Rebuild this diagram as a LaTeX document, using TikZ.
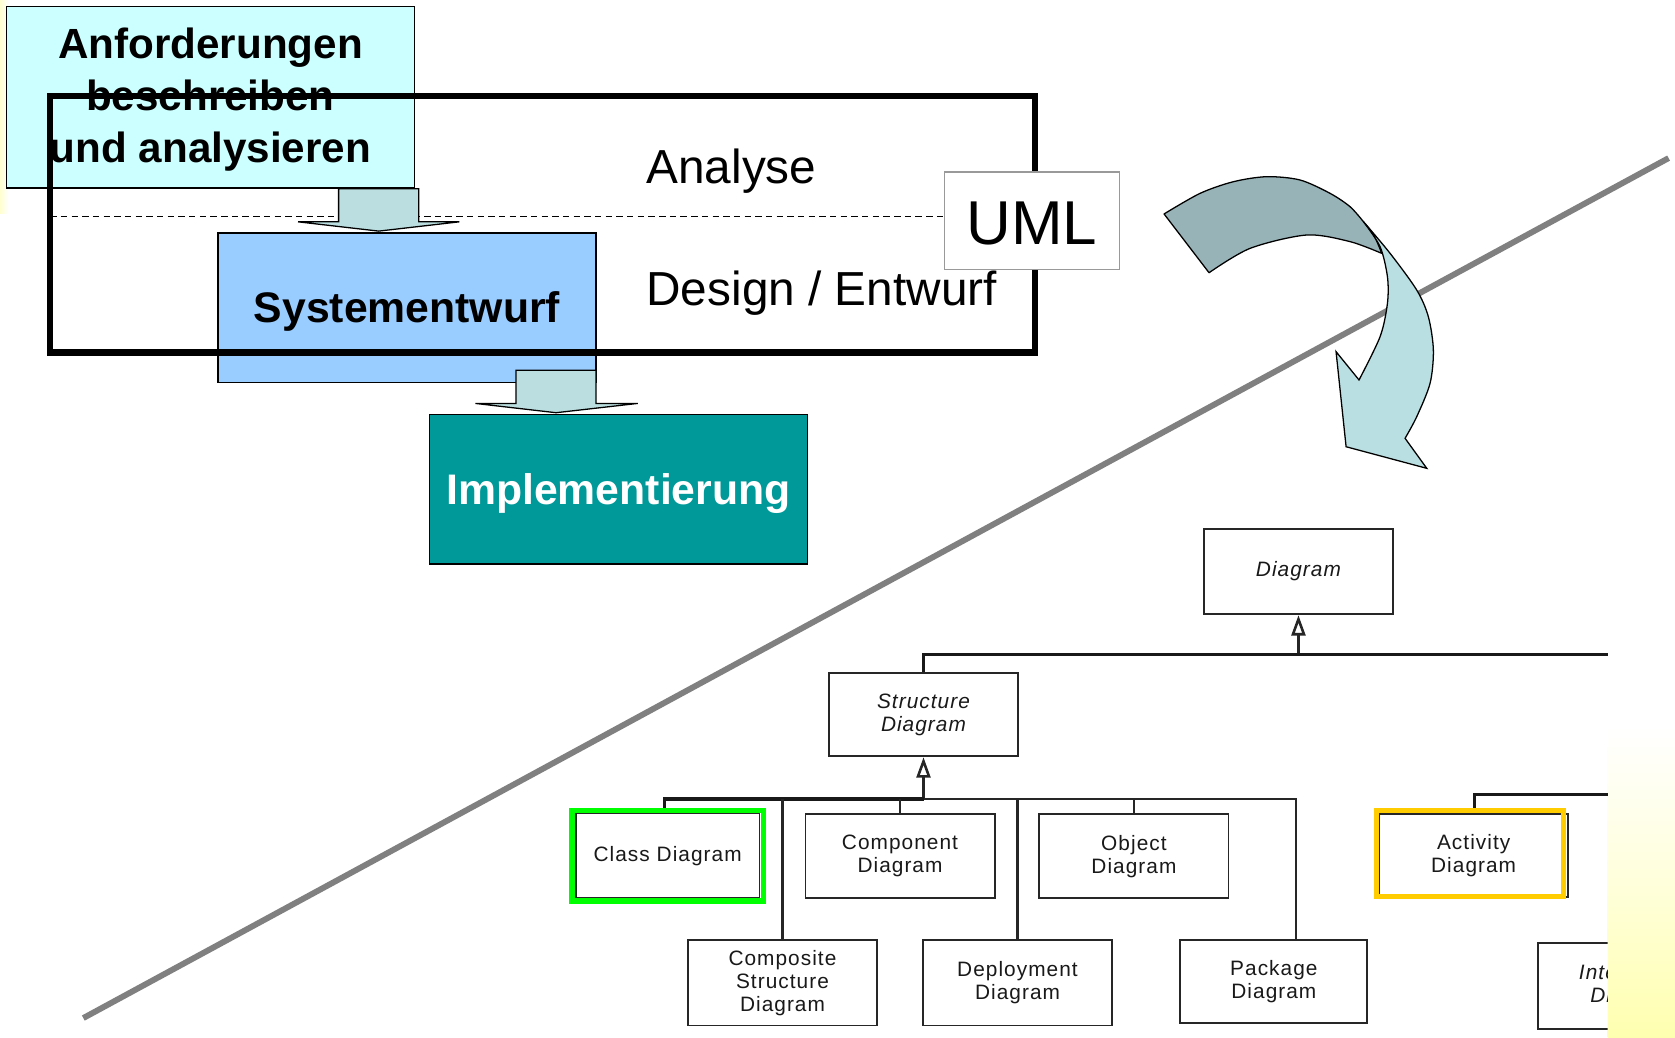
\documentclass[tikz,border=0pt]{standalone}
\usepackage{fontspec}
\setmainfont{Liberation Sans}
\newfontfamily\umlfont[LetterSpace=5]{Liberation Sans}
\usetikzlibrary{arrows.meta,calc}
\pgfdeclarelayer{back}
\pgfdeclarelayer{bg}
\pgfsetlayers{back,bg,main}
\definecolor{anfc}{HTML}{CCFFFF}
\definecolor{sysc}{HTML}{99CCFF}
\definecolor{impc}{HTML}{009999}
\definecolor{arrc}{HTML}{BBDFE0}
\definecolor{curvdarkc}{HTML}{97B3B7}
\definecolor{curvlightc}{HTML}{BADFE2}
\definecolor{diagline}{HTML}{808080}
\definecolor{umlgray}{HTML}{999999}
\definecolor{hlgreen}{HTML}{00FF00}
\definecolor{hlyellow}{HTML}{FFCC00}
\definecolor{glow}{HTML}{FFFFB0}
\definecolor{glowfaint}{HTML}{FFFFD0}
\newcommand{\lowered}[2]{\raisebox{-#1}[\height][\depth]{#2}}
\begin{document}
\begin{tikzpicture}[x=1pt,y=-1pt,
  box/.style={draw=black, line width=1.3pt, inner sep=0pt, align=center,
    minimum width=354pt, minimum height=140pt},
  bigbold/.style={font=\fontsize{39.5}{48.5}\selectfont\bfseries},
  plaintext/.style={font=\fontsize{44.7}{50}\selectfont, inner sep=0pt},
  blockarrow/.style={draw=black, line width=1.2pt, fill=arrc, line join=miter},
  umlbox/.style={draw=black!85, line width=1.8pt, fill=white, inner sep=0pt,
    minimum width=177pt, minimum height=80pt, align=center,
    font=\umlfont\fontsize{19.5}{21.5}\selectfont, text=black!90},
  umlabstract/.style={umlbox, font=\umlfont\fontsize{19.5}{21.5}\selectfont\itshape},
  tree/.style={draw=black!85, line width=2pt},
  treethick/.style={draw=black!90, line width=3pt},
  gen/.style={tree, -{Triangle[open, width=13pt, length=19pt, line width=2.4pt]}},
]
\useasboundingbox (0,0) rectangle (1568,971);
\begin{pgfonlayer}{back}
  \fill[white] (0,0) rectangle (1568,971);
  \shade[left color=glowfaint, right color=white] (0,0) rectangle (8,200);
  \shade[top color=white, bottom color=glow, middle color=white!55!glow] (1505,680) rectangle (1568,971);
\end{pgfonlayer}

% ---- process boxes
\node[box, fill=anfc, bigbold, minimum width=382pt, minimum height=170pt] (anf) at (197,91)
  {\lowered{3pt}{\begin{tabular}{@{}c@{}}Anforderungen\\beschreiben\\und analysieren\end{tabular}}};
\node[box, fill=sysc, font=\fontsize{40}{48}\selectfont\bfseries] (sys) at (381,288) {\lowered{4pt}{Systementwurf}};
\node[box, fill=impc, text=white, font=\fontsize{40}{48}\selectfont\bfseries] (imp) at (579,458) {\lowered{4pt}{Implementierung}};

% ---- frame
\node[draw=black, line width=6pt, minimum width=922pt, minimum height=240pt, inner sep=0pt] (frm) at (508,210) {};

% ---- UML label box
\node[draw=umlgray, line width=1.3pt, fill=white, minimum width=164pt, minimum height=91pt,
  inner sep=0pt, font=\fontsize{58}{60}\selectfont] (uml) at (966,206.5) {\lowered{3pt}{UML}};

\node[plaintext, anchor=base west] (ana) at (605,172) {Analyse};
\node[plaintext, anchor=base west] (des) at (605,286) {Design / Entwurf};

% ---- dashed separator and diagonal
\begin{pgfonlayer}{bg}
  \draw[line width=1.2pt, dash pattern=on 6pt off 4pt]
    ([xshift=3pt,yshift=7pt]frm.west) -- ([yshift=3.5pt]uml.west);
  \draw[line width=5.5pt, diagline] (78,953) -- (1562,148);
\end{pgfonlayer}

% ---- block arrows
\filldraw[blockarrow]
  ([xshift=120pt]anf.south) -- ([xshift=195pt]anf.south)
  -- ([xshift=195pt,yshift=-31pt]anf.south) -- ([xshift=233pt,yshift=-31pt]anf.south)
  -- ([xshift=-26.5pt,yshift=1pt]sys.north)
  -- ([xshift=82pt,yshift=-31pt]anf.south) -- ([xshift=120pt,yshift=-31pt]anf.south) -- cycle;
\filldraw[blockarrow]
  ([xshift=102pt,yshift=12pt]sys.south) -- ([xshift=177pt,yshift=12pt]sys.south)
  -- ([xshift=177pt,yshift=-19pt]sys.south) -- ([xshift=216pt,yshift=-19pt]sys.south)
  -- ([xshift=-58.5pt,yshift=1pt]imp.north)
  -- ([xshift=64pt,yshift=-19pt]sys.south) -- ([xshift=102pt,yshift=-19pt]sys.south) -- cycle;

% ---- curved arrow
\filldraw[draw=black, line width=1.2pt, fill=curvdarkc, line join=round]
  plot[smooth] coordinates {(1089.7,200.3) (1123.4,181.0) (1154.6,170.1) (1185.8,165.4)
    (1217.0,168.5) (1245.1,181.0) (1263.8,193.5) (1276.3,207.5)}
  -- plot[smooth] coordinates {(1276.3,207.5) (1286,220) (1293.5,237.2)}
  -- plot[smooth] coordinates {(1293.5,237.2) (1263.8,226.2) (1223.2,220) (1170.2,232.5) (1131.8,255.3)}
  -- cycle;
\filldraw[draw=black, line width=1.2pt, fill=curvlightc, line join=miter]
  plot[smooth] coordinates {(1276.3,207.5) (1301.3,237.2) (1326.2,271.5) (1337.1,296.5)
    (1341.8,327.7) (1338.7,358.8) (1326.2,390.1) (1315.3,410.3)}
  -- (1335.6,438.4) -- (1260.1,418.2) -- (1250.7,329.2)
  -- plot[smooth] coordinates {(1272.2,355.7) (1291.9,315.2) (1298.8,284.0) (1298.8,259.0)
    (1291.9,230.9) (1276.3,207.5)}
  -- cycle;

% ---- UML hierarchy
\node[umlabstract] (diag) at (1215.5,535) {Diagram};
\node[umlabstract, minimum height=78pt] (struct) at (864.5,669) {Structure\\Diagram};
\node[umlbox, minimum width=172pt] (class) at (625,801) {Class Diagram};
\node[draw=hlgreen, line width=5pt, minimum width=179pt, minimum height=85pt, inner sep=0pt] (classhl) at (625,801) {};
\node[umlbox, minimum height=79pt] (comp) at (842.5,801.5) {Component\\Diagram};
\node[umlbox, minimum height=79pt] (obj) at (1061.5,801.5) {Object\\Diagram};
\node[umlbox, minimum height=78pt] (act) at (1379.5,801) {Activity\\Diagram};
\node[draw=hlyellow, line width=5pt, minimum width=175pt, minimum height=81pt, inner sep=0pt] (acthl) at (1376,799) {};
\node[umlbox] (compos) at (732.5,920) {Composite\\Structure\\Diagram};
\node[umlbox] (deploy) at (952.5,920) {Deployment\\Diagram};
\node[umlbox, minimum width=175pt, minimum height=78pt] (pack) at (1192.5,919) {Package\\Diagram};
\begin{scope}
  \clip (0,0) rectangle (1505,971);
  \node[umlabstract] (inter) at (1528.5,923) {Interaction\\Diagram};
\end{scope}

\coordinate (j1) at (1215.5,613);
\coordinate (j2) at (864.5,748);
\coordinate (cut1) at (1505,613);
\coordinate (cut2) at (1505,744);

\draw[gen] (j1) -- (diag.south);
\draw[treethick] (struct.north) |- (j1) -- (cut1);
\draw[gen] (j2) -- (struct.south);
\draw[treethick] ([xshift=-3pt]classhl.north) |- (j2);
\draw[tree] (j2) -| ([xshift=20.5pt]pack.north);
\draw[tree] (comp.north) -- (comp.north |- j2);
\draw[tree] (obj.north) -- (obj.north |- j2);
\draw[tree] (compos.north) -- (compos.north |- j2);
\draw[tree] (deploy.north) -- (deploy.north |- j2);
\draw[treethick] ([xshift=4pt]acthl.north) |- (cut2);
\end{tikzpicture}
\end{document}
